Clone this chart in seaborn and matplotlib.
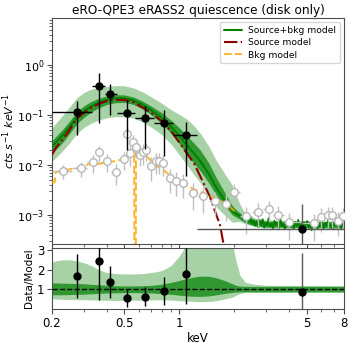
import numpy as np
import matplotlib
matplotlib.use("Agg")
import matplotlib.pyplot as plt
import matplotlib.ticker as mticker
import seaborn as sns

# --- source spectrum (black points) ---
src_e = [0.274, 0.362, 0.417, 0.516, 0.649, 0.825, 1.09, 4.67]
src_edges = [0.2, 0.33, 0.39, 0.455, 0.57, 0.73, 0.92, 1.25, 8.0]
src_y = [0.115, 0.38, 0.26, 0.11, 0.087, 0.069, 0.040, 5.2e-4]
src_yerr = [0.076, 0.31, 0.16, 0.09, 0.066, 0.054, 0.034, 1.15e-3]
ratio = [1.7, 2.45, 1.38, 0.55, 0.63, 0.92, 1.77, 0.88]
ratio_err = [1.12, 2.0, 0.83, 0.45, 0.48, 0.72, 1.5, 1.95]

# --- background spectrum (open grey points) ---
bkg_e = [0.23, 0.29, 0.335, 0.362, 0.40, 0.45, 0.50, 0.515, 0.535, 0.555, 0.575,
         0.61, 0.63, 0.66, 0.70, 0.74, 0.77, 0.81, 0.89, 0.96, 1.05, 1.19, 1.35,
         1.57, 1.81, 2.0, 2.32, 2.7, 3.08, 3.48, 4.0, 5.44, 6.0, 6.5, 6.9, 7.4, 7.9]
bkg_y = [0.0076, 0.0087, 0.0115, 0.018, 0.012, 0.0072, 0.013, 0.042, 0.017, 0.029, 0.023,
         0.016, 0.018, 0.02, 0.0095, 0.012, 0.012, 0.011, 0.0055, 0.0048, 0.0044, 0.0028, 0.0024,
         0.0019, 0.0017, 0.0029, 9.5e-4, 1.15e-3, 1.3e-3, 1.0e-3, 7.2e-4, 6.9e-4, 9.1e-4, 1.0e-3, 1.0e-3, 7.6e-4, 9.5e-4]
bkg_rel = [0.3, 0.35, 0.4, 0.35, 0.4, 0.45, 0.4, 0.4, 0.45, 0.4, 0.4,
           0.4, 0.45, 0.4, 0.5, 0.45, 0.45, 0.45, 0.5, 0.5, 0.5, 0.55, 0.55,
           0.5, 0.55, 0.45, 0.55, 0.5, 0.45, 0.5, 0.55, 0.55, 0.5, 0.45, 0.45, 0.5, 0.45]

# --- models ---
e_model = [0.2, 0.21, 0.23, 0.25, 0.274, 0.3, 0.33, 0.36, 0.4, 0.45, 0.5, 0.56, 0.63, 0.7,
           0.8, 0.9, 1.0, 1.1, 1.2, 1.3, 1.45, 1.6, 1.8, 1.95, 2.05, 2.15, 2.3, 2.6, 3.0, 8.0]
tot_model = [0.023, 0.028, 0.04, 0.058, 0.09, 0.12, 0.15, 0.175, 0.2, 0.215, 0.215, 0.195, 0.16, 0.125,
             0.088, 0.058, 0.038, 0.025, 0.017, 0.012, 0.0066, 0.0034, 0.0018, 0.0012, 0.00105, 0.00095,
             0.0008, 7e-4, 6.6e-4, 6.4e-4]
dark_lo = [0.72, 0.72, 0.72, 0.73, 0.74, 0.75, 0.77, 0.79, 0.81, 0.82, 0.83, 0.83, 0.82, 0.81,
           0.78, 0.74, 0.7, 0.66, 0.64, 0.64, 0.66, 0.72, 0.8, 0.84, 0.86, 0.87, 0.87, 0.87, 0.87, 0.87]
dark_hi = [1.32, 1.32, 1.31, 1.3, 1.29, 1.28, 1.25, 1.23, 1.2, 1.18, 1.17, 1.17, 1.18, 1.2,
           1.26, 1.35, 1.45, 1.55, 1.62, 1.67, 1.66, 1.58, 1.42, 1.28, 1.2, 1.16, 1.15, 1.15, 1.15, 1.15]
light_lo = [0.52, 0.5, 0.49, 0.48, 0.47, 0.47, 0.46, 0.45, 0.44, 0.43, 0.43, 0.44, 0.45, 0.46,
            0.46, 0.45, 0.42, 0.4, 0.38, 0.37, 0.38, 0.42, 0.52, 0.6, 0.7, 0.78, 0.84, 0.84, 0.84, 0.84]
light_hi = [2.4, 2.45, 2.5, 2.5, 2.45, 2.35, 2.2, 2.0, 1.85, 1.8, 1.78, 1.78, 1.8, 1.85,
            1.95, 2.2, 2.7, 3.3, 3.6, 3.6, 3.6, 3.5, 3.4, 3.3, 2.4, 1.7, 1.35, 1.25, 1.2, 1.18]

# noisy total model at high energies (x 1e-4)
tot_hi = [8.2, 8.8, 10.2, 8.0, 8.8, 7.2, 8.6, 6.6, 7.9, 6.1, 7.5, 5.8, 7.9, 6.4, 8.3, 5.6, 7.0, 6.2,
          8.6, 5.9, 6.8, 5.4, 7.7, 6.3, 7.1, 5.5, 8.1, 6.0, 6.6, 5.2, 7.4, 6.5, 7.8, 5.7, 6.9, 5.3,
          7.3, 6.1, 8.0, 5.6, 6.7, 5.1, 7.2, 6.4, 7.6, 5.5, 6.5, 5.0, 7.0, 6.2, 7.9, 5.4, 6.6, 5.8,
          7.4, 5.3, 6.9, 6.0, 7.7, 5.6, 6.4, 5.2, 7.1, 6.3, 7.5, 5.7, 6.8, 5.5, 7.2, 6.0]
e_hi = np.geomspace(2.2, 8.0, len(tot_hi))

src_model_e = [0.2, 0.21, 0.23, 0.25, 0.274, 0.3, 0.33, 0.36, 0.4, 0.45, 0.5, 0.56, 0.63, 0.7,
               0.8, 0.9, 1.0, 1.1, 1.2, 1.3, 1.47, 1.67, 1.75]
src_model = [0.016, 0.022, 0.033, 0.05, 0.085, 0.11, 0.14, 0.165, 0.19, 0.2, 0.2, 0.18, 0.14, 0.11,
             0.075, 0.048, 0.028, 0.017, 0.011, 0.006, 0.0023, 6.3e-4, 2.5e-4]

bkg_model_e = [0.2, 0.207, 0.21, 0.23, 0.25, 0.27, 0.30, 0.33, 0.36, 0.40, 0.45, 0.50, 0.53, 0.555,
               0.565, 0.568, 0.575, 0.578, 0.60, 0.65, 0.70, 0.75, 0.80, 0.90, 1.0, 1.2, 1.4, 1.6, 1.8, 2.0]
bkg_model = [0.0045, 0.0045, 0.0072, 0.0078, 0.0082, 0.0085, 0.0095, 0.011, 0.0105, 0.0115, 0.012,
             0.0135, 0.016, 0.022, 0.025, 1e-6, 1e-6, 0.022, 0.02, 0.016, 0.012, 0.0095, 0.0085,
             0.006, 0.0046, 0.0033, 0.0026, 0.0021, 0.0017, 0.0012]

sns.set_style("ticks")
plt.rcParams['font.family'] = ['DejaVu Sans']
plt.rcParams.update({
    'axes.edgecolor': '0.3',
    'xtick.major.size': 3.5, 'ytick.major.size': 3.5,
    'xtick.minor.size': 2, 'ytick.minor.size': 2,
    'xtick.major.pad': 2.5, 'ytick.major.pad': 2,
    'text.color': 'black', 'axes.labelcolor': 'black',
    'xtick.color': '0.3', 'ytick.color': '0.3',
    'xtick.labelcolor': 'black', 'ytick.labelcolor': 'black',
})

fig = plt.figure(figsize=(3.53, 3.44), dpi=100)
ax1 = fig.add_axes([0.147, 0.292, 0.828, 0.656])
ax2 = fig.add_axes([0.147, 0.102, 0.828, 0.177], sharex=ax1)

tot = np.array(tot_model)
ax1.fill_between(e_model, tot * np.array(light_lo), tot * np.array(light_hi),
                 color='green', alpha=0.35, lw=0, zorder=1)
ax1.fill_between(e_model, tot * np.array(dark_lo), tot * np.array(dark_hi),
                 color='green', alpha=0.7, lw=0, zorder=2)
sns.lineplot(x=e_model[:-4], y=tot_model[:-4], ax=ax1, color='green', lw=1.5,
             estimator=None, sort=False, zorder=3, label='Source+bkg model')
ax1.plot(e_hi, np.array(tot_hi) * 1e-4, color='green', lw=1.3, zorder=3)
sns.lineplot(x=src_model_e, y=src_model, ax=ax1, color='darkred', lw=1.5, linestyle='-.',
             estimator=None, sort=False, zorder=4, label='Source model')
sns.lineplot(x=bkg_model_e, y=bkg_model, ax=ax1, color='orange', alpha=0.8, lw=1.5, linestyle='--',
             estimator=None, sort=False, zorder=4, label='Bkg model')

# background points
be = np.array(bkg_e)
edges = np.concatenate([[0.2], np.sqrt(be[:-1] * be[1:]), [8.0]])
by = np.array(bkg_y)
ax1.errorbar(be, by, xerr=[be - edges[:-1], edges[1:] - be], yerr=by * np.array(bkg_rel),
             fmt='o', ms=5.5, mfc='white', mec='0.72', mew=1, ecolor='0.75', elinewidth=1,
             zorder=5)

# source points
se = np.array(src_e)
sed = np.array(src_edges)
xerr = [se - sed[:-1], sed[1:] - se]
ax1.errorbar(se[:7], src_y[:7], xerr=[xerr[0][:7], xerr[1][:7]], yerr=src_yerr[:7],
             fmt='o', color='k', ms=5, elinewidth=1, zorder=6)
ax1.errorbar(se[7:], src_y[7:], xerr=[xerr[0][7:], xerr[1][7:]], yerr=src_yerr[7:],
             fmt='o', color='k', ecolor='0.35', ms=5, elinewidth=1, zorder=6)

ax1.set_xscale('log')
ax1.set_yscale('log')
ax1.set_xlim(0.2, 8)
ax1.set_ylim(2.7e-4, 8.7)
ax1.set_ylabel(r'$cts\ s^{-1}\ keV^{-1}$', fontsize=8, labelpad=0)
ax1.set_title('eRO-QPE3 eRASS2 quiescence (disk only)', fontsize=8.7, pad=3)
ax1.tick_params(labelbottom=False, labelsize=8)
ax1.legend(loc='upper right', fontsize=6.6, frameon=True, labelspacing=0.35,
           borderpad=0.4, handletextpad=0.6)

# ratio panel
e_arr = np.array(e_model)
ax2.fill_between(e_arr, light_lo, light_hi, color='green', alpha=0.35, lw=0, zorder=1)
ax2.fill_between(e_arr, dark_lo, dark_hi, color='green', alpha=0.7, lw=0, zorder=2)
ax2.axhline(1, color='k', ls='--', lw=1, zorder=3)
ax2.errorbar(se[:7], ratio[:7], yerr=ratio_err[:7], fmt='o', color='k', ms=5, elinewidth=1, zorder=5)
ax2.errorbar(se[7:], ratio[7:], yerr=ratio_err[7:], fmt='o', color='k', ecolor='0.35', ms=5,
             elinewidth=1, zorder=5)
ax2.set_ylim(0, 3.1)
ax2.set_yticks([1, 2, 3])
ax2.set_ylabel('Data/Model', fontsize=7.5, labelpad=2)
ax2.set_xlabel('keV', fontsize=8.5, labelpad=1)
ax2.set_xticks([0.2, 0.5, 1, 5, 8])
ax2.set_xticklabels(['0.2', '0.5', '1', '5', '8'])
ax2.xaxis.set_minor_formatter(mticker.NullFormatter())
ax2.tick_params(labelsize=8.5)

fig.savefig('out.png', dpi=100)
